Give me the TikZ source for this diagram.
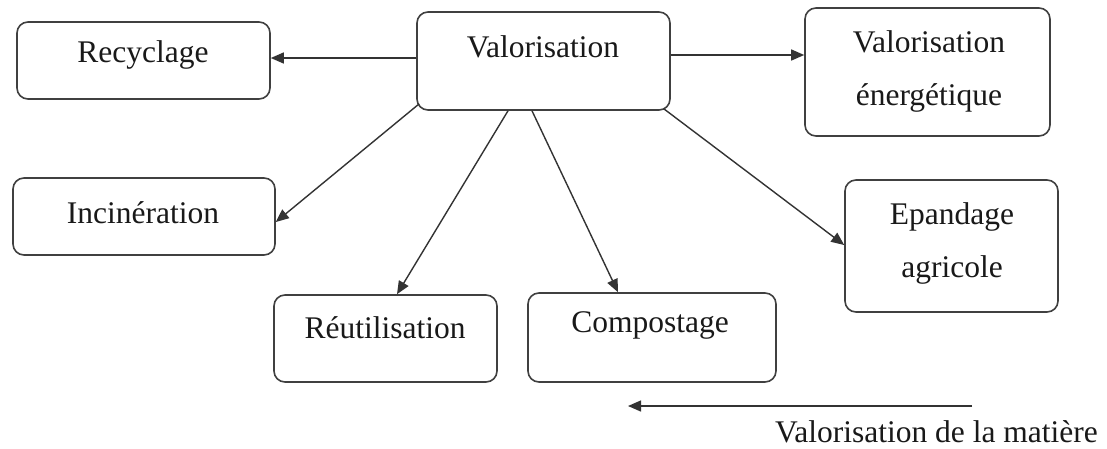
\documentclass[tikz,border=0pt]{standalone}
\usepackage{fontspec}
\setmainfont{Liberation Serif}
\usetikzlibrary{arrows.meta}
\begin{document}
\begin{tikzpicture}[x=1pt,y=-1pt,
  box/.style={draw=black!75, line width=1.6pt, rounded corners=11pt, inner sep=0pt},
  txt/.style={font=\fontsize{31.5}{53}\selectfont, text=black!90, align=center, inner sep=0pt},
  arr/.style={draw=black!80, line width=1.4pt, -{Triangle[length=13pt,width=11pt]}}]
\useasboundingbox[fill=white] (0,0) rectangle (1107,448);
% boxes
\node[box, minimum width=253pt, minimum height=77pt] (rec) at (143.5,60.5) {};
\node[box, minimum width=253pt, minimum height=98pt] (val) at (543.5,61) {};
\node[box, minimum width=245pt, minimum height=128pt] (ene) at (927.5,72) {};
\node[box, minimum width=262pt, minimum height=77pt] (inc) at (144,216.5) {};
\node[box, minimum width=213pt, minimum height=132pt] (epa) at (951.5,246) {};
\node[box, minimum width=223pt, minimum height=87pt] (reu) at (385.5,338.5) {};
\node[box, minimum width=248pt, minimum height=89pt] (com) at (652,337.5) {};
% texts
\node[txt] (recT) at (143,55) {Recyclage};
\node[txt] (valT) at (543,47) {Valorisation};
\node[txt] (eneT) at (929,71.5) {Valorisation\\énergétique};
\node[txt] (incT) at (143,213) {Incinération};
\node[txt] (epaT) at (952,243.5) {Epandage\\agricole};
\node[txt] (reuT) at (385,328) {Réutilisation};
\node[txt] (comT) at (650,325) {Compostage};
% connectors
\draw[arr] ([yshift=3pt]val.west) -- ([yshift=3pt]val.west -| rec.east);
\draw[arr] ([yshift=6pt]val.east) -- ([yshift=6pt]val.east -| ene.west);
\draw[arr] ([shift={(3pt,7pt)}]val.south west) -- ([yshift=-5.5pt]inc.east);
\draw[arr] ([xshift=-35.5pt]val.south) -- ([xshift=11.5pt]reu.north);
\draw[arr] ([xshift=-11.5pt]val.south) -- ([xshift=-34pt]com.north);
\draw[arr] ([shift={(-7pt,2pt)}]val.south east) -- ([yshift=1pt]epa.west);
% legend arrow
\coordinate (legA) at (972,406);
\coordinate (legB) at (628,406);
\draw[arr] (legA) -- (legB);
\node[txt, anchor=base east] (legT) at (1098,442) {Valorisation de la matière};
\end{tikzpicture}
\end{document}
